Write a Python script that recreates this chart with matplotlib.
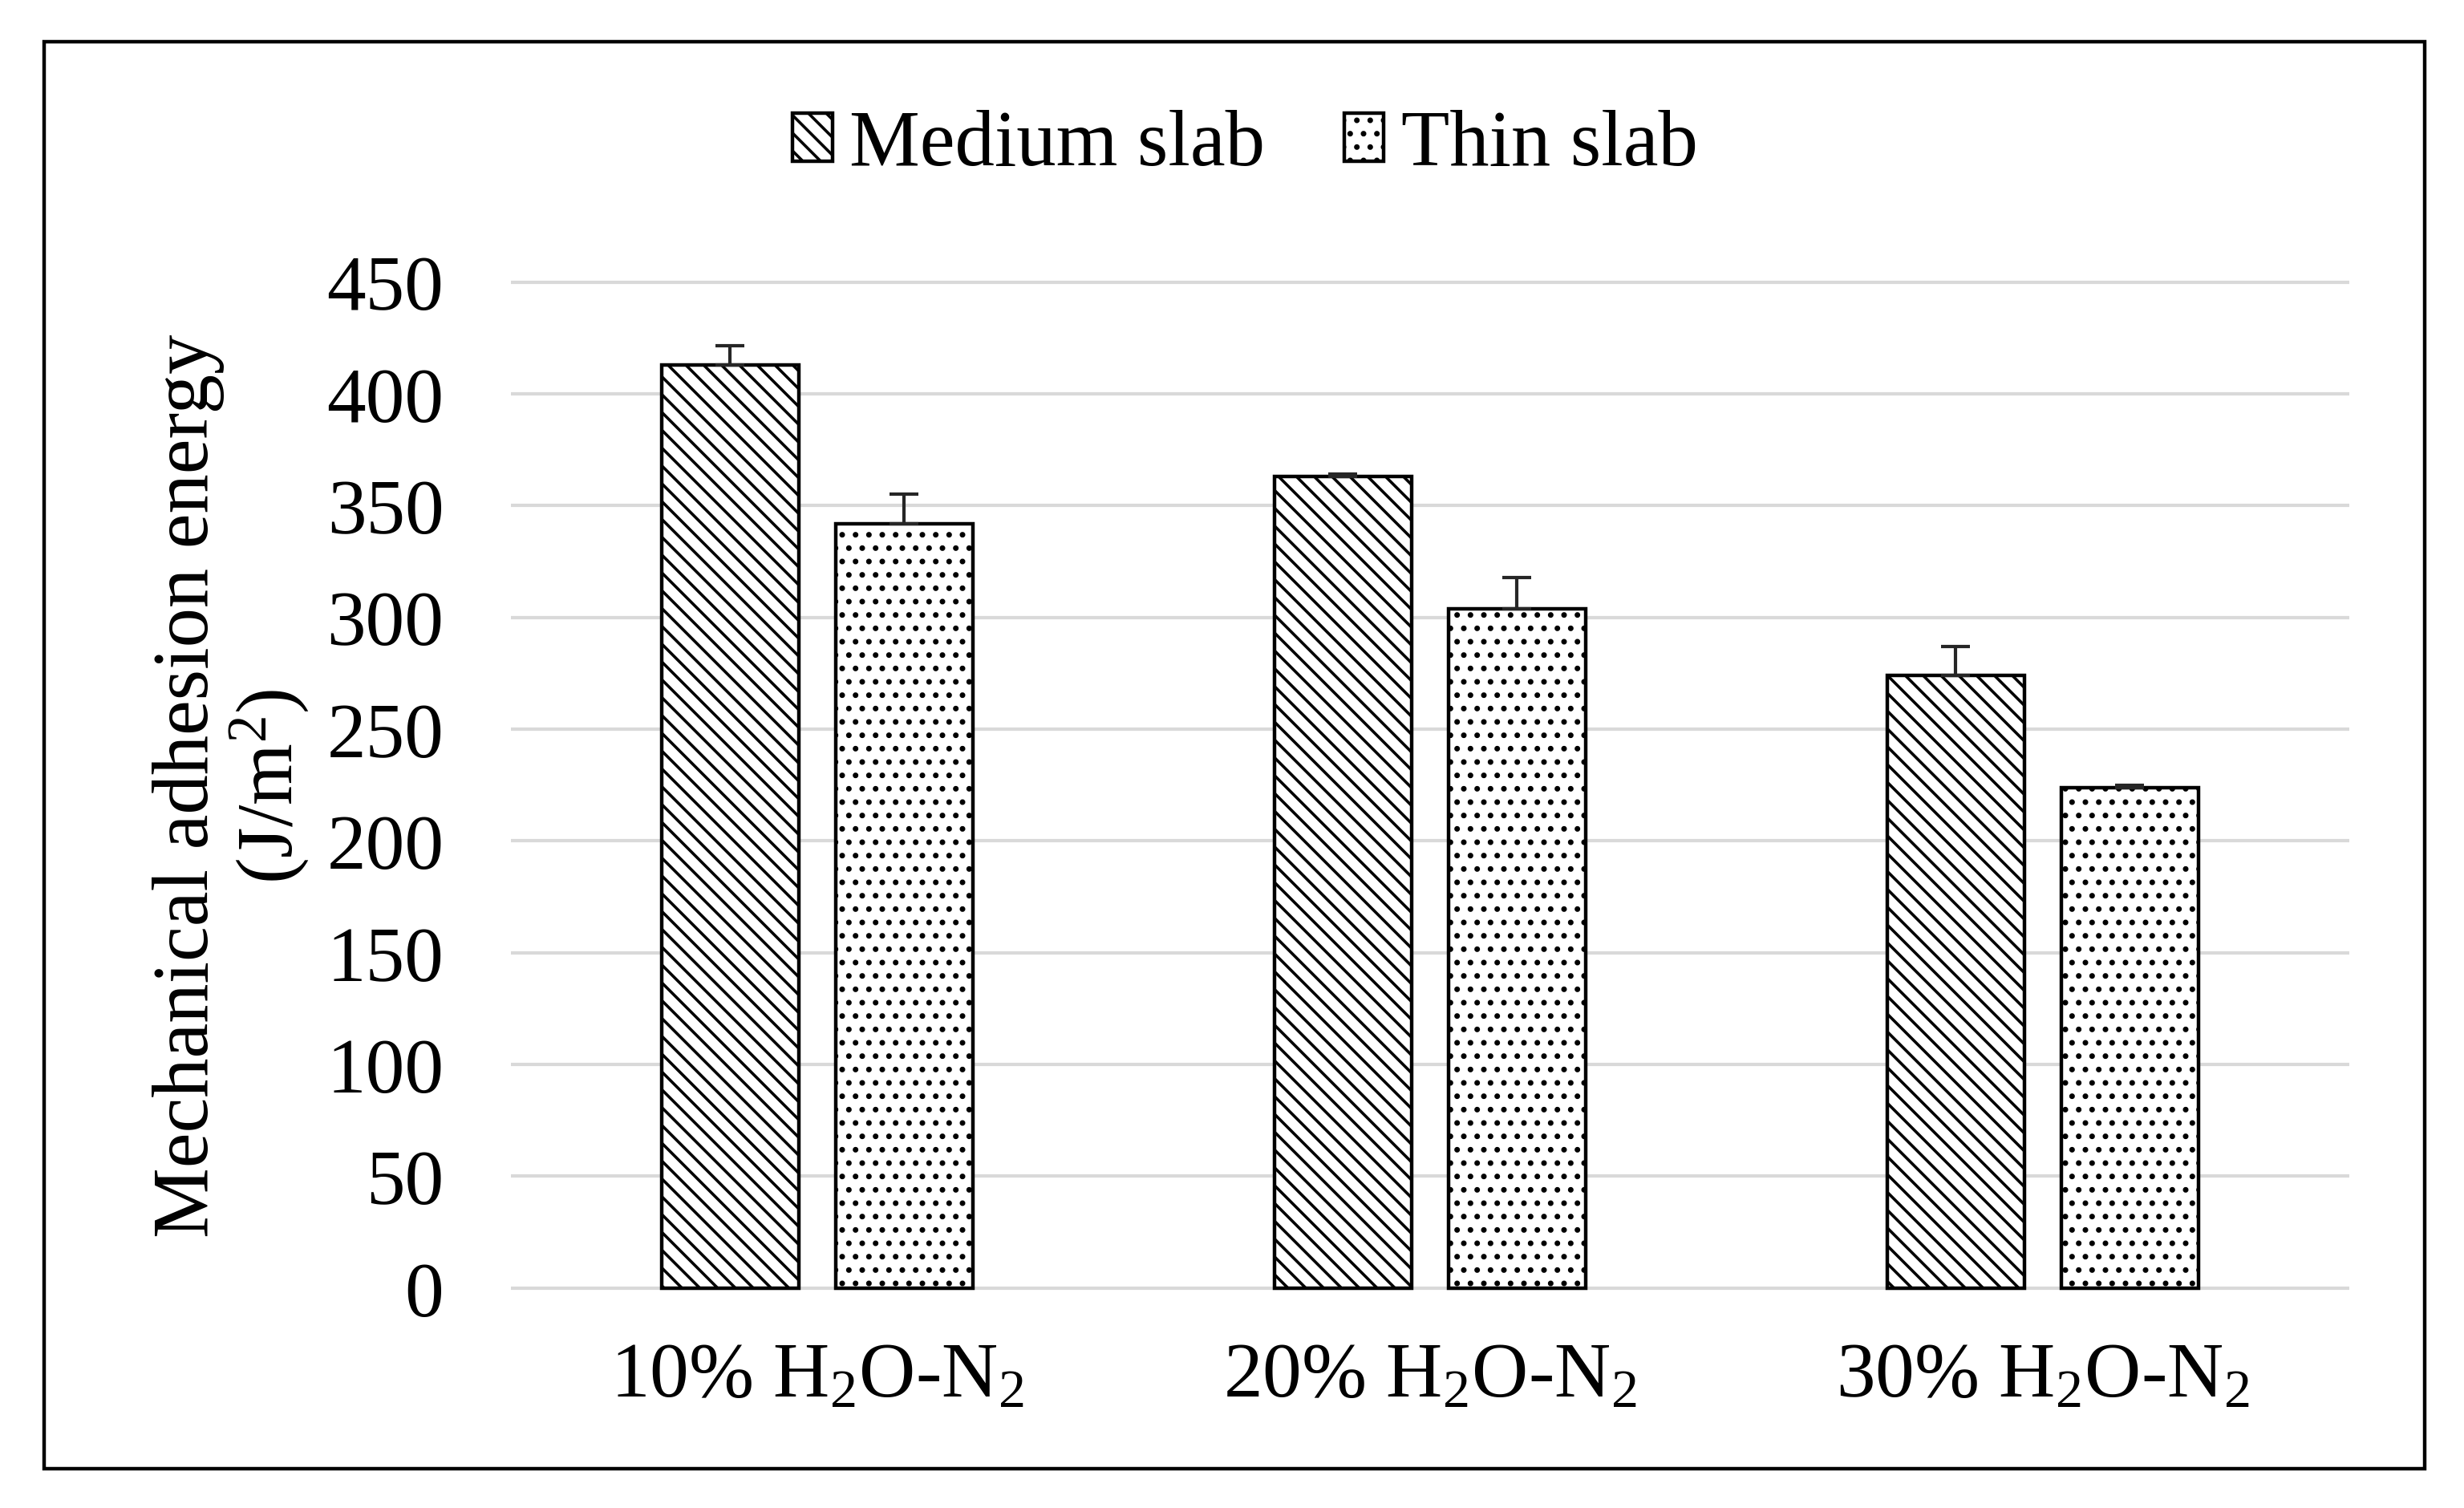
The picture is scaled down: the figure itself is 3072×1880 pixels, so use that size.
import matplotlib
matplotlib.use("Agg")
import matplotlib.pyplot as plt
import numpy as np
from matplotlib.patches import Rectangle

# values
categories = ["10% H$_2$O-N$_2$", "20% H$_2$O-N$_2$", "30% H$_2$O-N$_2$"]
medium_slab = [413, 363, 274]
medium_err = [8.5, 1.0, 13.0]
thin_slab = [342, 304, 224]
thin_err = [13.0, 14.0, 1.0]
y_ticks = [0, 50, 100, 150, 200, 250, 300, 350, 400, 450]

plt.rcParams["font.family"] = ["Liberation Serif", "DejaVu Serif"]
plt.rcParams["mathtext.fontset"] = "custom"
plt.rcParams["mathtext.rm"] = "Liberation Serif"
plt.rcParams["mathtext.it"] = "Liberation Serif:italic"
plt.rcParams["hatch.linewidth"] = 1.3
plt.rcParams["hatch.color"] = "black"


def plot_adhesion():
    """Bar chart of mechanical adhesion energy for two slab thicknesses."""
    fig = plt.figure(figsize=(15.36, 9.405), dpi=200)
    ax = fig.add_axes([0.2073, 0.1428, 0.7461, 0.6727])

    x = np.arange(len(categories))
    offset = 0.142
    width = 0.223
    err_style = dict(ecolor="#262626", elinewidth=1.5, capsize=6.5, capthick=1.5)

    ax.bar(x - offset, medium_slab, width, color="white", edgecolor="black",
           linewidth=1.6, hatch="\\\\\\", label="Medium slab", zorder=3)
    ax.errorbar(x - offset, medium_slab, yerr=[np.zeros(3), medium_err],
                fmt="none", zorder=4, **err_style)
    ax.bar(x + offset, thin_slab, width, color="white", edgecolor="black",
           linewidth=1.6, hatch="..", label="Thin slab", zorder=3)
    ax.errorbar(x + offset, thin_slab, yerr=[np.zeros(3), thin_err],
                fmt="none", zorder=4, **err_style)

    ax.set_xlim(-0.5, 2.5)
    ax.set_ylim(-2, 452)
    ax.set_yticks(y_ticks)
    ax.set_xticks(x)
    ax.set_xticklabels(categories)
    ax.tick_params(axis="both", length=0, labelsize=35)
    ax.tick_params(axis="y", pad=30)
    ax.tick_params(axis="x", pad=22)
    ax.yaxis.grid(True, color="#d9d9d9", linewidth=1.5, zorder=0)
    ax.set_axisbelow(True)
    for spine in ax.spines.values():
        spine.set_visible(False)

    fig.text(0.094, 0.479, "Mechanical adhesion energy\n(J/m$^2$)",
             rotation=90, ha="center", va="center", multialignment="center",
             fontsize=35.5, linespacing=1.05)

    fig.legend(loc="center", bbox_to_anchor=(0.5054, 0.903), ncol=2,
               frameon=False, fontsize=35.5, handlelength=0.5,
               handleheight=0.56, handletextpad=0.22, columnspacing=1.0)

    fig.patches.append(Rectangle((0.0179, 0.026), 0.9661, 0.946,
                                 transform=fig.transFigure, fill=False,
                                 edgecolor="black", linewidth=1.6))

    fig.savefig("out.png", dpi=200, facecolor="white")


if __name__ == "__main__":
    plot_adhesion()
